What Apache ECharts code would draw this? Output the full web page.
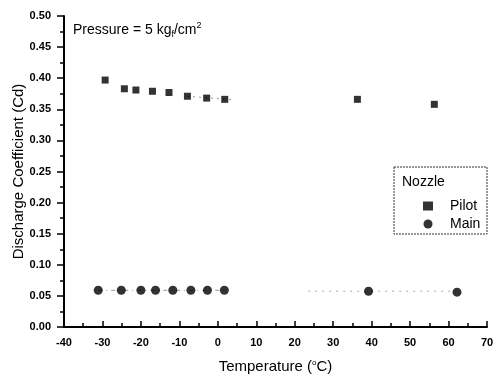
<!DOCTYPE html>
<html><head><meta charset="utf-8">
<script src="https://cdn.jsdelivr.net/npm/echarts@6/dist/echarts.min.js"></script>
<style>html,body{margin:0;padding:0;background:#fff}#c{width:493px;height:377px}</style>
</head><body><div id="c"></div>
<script>
const pilotTemp = [-29.3, -24.3, -21.3, -17.0, -12.7, -7.9, -2.9, 1.8, 36.3, 56.3];
const pilotCd   = [0.397, 0.383, 0.381, 0.379, 0.377, 0.371, 0.368, 0.366, 0.366, 0.358];
const mainTemp  = [-31.1, -25.1, -20.0, -16.2, -11.7, -7.0, -2.7, 1.7, 39.2, 62.2];
const mainCd    = [0.059, 0.059, 0.059, 0.059, 0.059, 0.059, 0.059, 0.059, 0.0575, 0.056];
const pilotTrendT = [-8, 3.6];
const pilotTrendCd = [0.371, 0.3655];
const mainTrendLeftT = [-31.1, 1.7];
const mainTrendRightT = [23.5, 62.2];
const mainTrendCd = [0.059, 0.0575];

const F = '"Liberation Sans", Arial, sans-serif';
const chart = echarts.init(document.getElementById('c'), null, {renderer:'canvas'});
const pair = (xs, ys) => xs.map((x,i)=>[x, ys[i]]);
chart.setOption({
  animation:false,
  grid:{left:64,right:6,top:16,bottom:50,containLabel:false,outerBoundsMode:'none'},
  xAxis:{type:'value',min:-40,max:70,interval:10,
    name:'Temperature ({s|o}C)',nameLocation:'middle',nameGap:32,
    nameTextStyle:{fontFamily:F,fontSize:15,color:'#000',
      rich:{s:{fontFamily:F,fontSize:8,padding:[0,0,8,0],color:'#000'}}},
    axisLine:{onZero:false,lineStyle:{color:'#000',width:2}},
    axisTick:{inside:true,length:6,lineStyle:{color:'#000',width:1.5}},
    minorTick:{show:true,splitNumber:2,length:4,lineStyle:{color:'#000',width:1.5}},
    axisLabel:{fontFamily:F,fontSize:11,fontWeight:'bold',color:'#000',margin:10},
    splitLine:{show:false}},
  yAxis:{type:'value',min:0,max:0.5,interval:0.05,
    name:'Discharge Coefficient (Cd)',nameLocation:'middle',nameGap:38,nameMoveOverlap:false,
    nameTextStyle:{fontFamily:F,fontSize:15,color:'#000'},
    axisLine:{show:true,onZero:false,lineStyle:{color:'#000',width:2}},
    axisTick:{length:7,lineStyle:{color:'#000',width:1.5}},
    minorTick:{show:true,splitNumber:2,length:4,lineStyle:{color:'#000',width:1.5}},
    axisLabel:{fontFamily:F,fontSize:11,fontWeight:'bold',color:'#000',margin:13,formatter:v=>v.toFixed(2)},
    splitLine:{show:false}},
  legend:{orient:'vertical',left:418,top:194,itemWidth:10,itemHeight:9,itemGap:4,
    data:[{name:'Pilot',icon:'rect'},{name:'Main',icon:'circle'}],
    textStyle:{fontFamily:F,fontSize:14,color:'#000',padding:[0,0,0,12]}},
  series:[
    {type:'line',silent:true,symbol:'none',data:pair(pilotTrendT,pilotTrendCd),
      lineStyle:{color:'#999',width:1,type:[2,4]},z:1},
    {type:'line',silent:true,symbol:'none',data:pair(mainTrendLeftT,[mainTrendCd[0],mainTrendCd[0]]),
      lineStyle:{color:'#999',width:1,type:[4,4,1,4]},z:1},
    {type:'line',silent:true,symbol:'none',data:pair(mainTrendRightT,[mainTrendCd[1],mainTrendCd[1]]),
      lineStyle:{color:'#aaa',width:1,type:[2,5]},z:1},
    {name:'Pilot',type:'scatter',symbol:'rect',symbolSize:7,data:pair(pilotTemp,pilotCd),
      itemStyle:{color:'#000'},z:3},
    {name:'Main',type:'scatter',symbol:'circle',symbolSize:9,data:pair(mainTemp,mainCd),
      itemStyle:{color:'#000'},z:3}
  ],
  graphic:[
    {type:'rect',shape:{x:394,y:167,width:93,height:67},
      style:{fill:'none',stroke:'#333',lineWidth:1,lineDash:[2,1]}},
    {type:'text',left:402,top:175,style:{text:'Nozzle',font:'14px '+F,fill:'#000'}},
    {type:'text',left:73,top:21,style:{
      text:'Pressure = 5 kg{s|f}/cm{p|2}',
      font:'14px '+F,fill:'#000',
      rich:{s:{fontSize:9,fontFamily:F,padding:[9,0,0,0],fill:'#000'},
            p:{fontSize:9,fontFamily:F,padding:[0,0,9,0],fill:'#000'}}}}
  ]
});
</script></body></html>
